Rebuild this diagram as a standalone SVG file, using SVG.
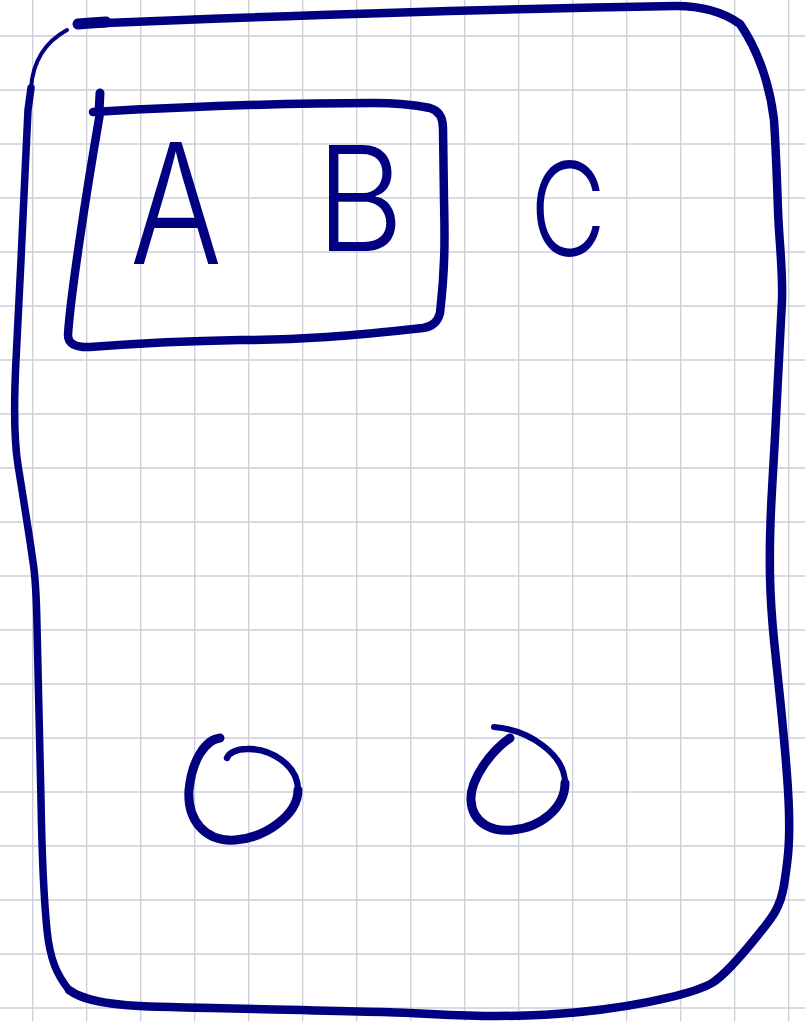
<svg xmlns="http://www.w3.org/2000/svg" width="805" height="1021" viewBox="0 0 805 1021">
<defs>
<style>
.grid line{stroke:#cdcdda;stroke-width:1.3}
.ink{fill:none;stroke:#000080;stroke-linecap:round;stroke-linejoin:round}
.lbl{fill:#000080;font-family:Inter,Roboto,"Liberation Sans",sans-serif;font-weight:300;text-anchor:middle}
</style>
</defs>
<rect width="805" height="1021" fill="#ffffff"/>
<g class="grid">
<line x1="32.7" y1="0" x2="32.7" y2="1021"/><line x1="86.7" y1="0" x2="86.7" y2="1021"/><line x1="140.7" y1="0" x2="140.7" y2="1021"/><line x1="194.7" y1="0" x2="194.7" y2="1021"/><line x1="248.7" y1="0" x2="248.7" y2="1021"/><line x1="302.7" y1="0" x2="302.7" y2="1021"/><line x1="356.7" y1="0" x2="356.7" y2="1021"/><line x1="410.7" y1="0" x2="410.7" y2="1021"/><line x1="464.7" y1="0" x2="464.7" y2="1021"/><line x1="518.7" y1="0" x2="518.7" y2="1021"/><line x1="572.7" y1="0" x2="572.7" y2="1021"/><line x1="626.7" y1="0" x2="626.7" y2="1021"/><line x1="680.7" y1="0" x2="680.7" y2="1021"/><line x1="734.7" y1="0" x2="734.7" y2="1021"/><line x1="788.7" y1="0" x2="788.7" y2="1021"/>
<line x1="0" y1="36" x2="805" y2="36"/><line x1="0" y1="90" x2="805" y2="90"/><line x1="0" y1="144" x2="805" y2="144"/><line x1="0" y1="198" x2="805" y2="198"/><line x1="0" y1="252" x2="805" y2="252"/><line x1="0" y1="306" x2="805" y2="306"/><line x1="0" y1="360" x2="805" y2="360"/><line x1="0" y1="414" x2="805" y2="414"/><line x1="0" y1="468" x2="805" y2="468"/><line x1="0" y1="522" x2="805" y2="522"/><line x1="0" y1="576" x2="805" y2="576"/><line x1="0" y1="630" x2="805" y2="630"/><line x1="0" y1="684" x2="805" y2="684"/><line x1="0" y1="738" x2="805" y2="738"/><line x1="0" y1="792" x2="805" y2="792"/><line x1="0" y1="846" x2="805" y2="846"/><line x1="0" y1="900" x2="805" y2="900"/><line x1="0" y1="954" x2="805" y2="954"/><line x1="0" y1="1008" x2="805" y2="1008"/>
</g>
<g id="outer-frame">
<path class="ink" stroke-width="11" d="M78,24 C88,23 96,22.5 106,22"/>
<path class="ink" stroke-width="8.5" d="M80,24 C250,17 480,9 676,6 Q715,6 740,24 C758,50 770,85 774,120 C776,150 777,180 778,210 S783,270 782,300 S776,420 772,490 S770,600 774,640 S785,740 788,790 S788,860 784,885 S770,920 758,935 S725,975 712,983 S650,1005 580,1012 S450,1015 411,1013 S180,1008 139,1006 S80,998 69,990"/>
<path class="ink" stroke-width="7.5" d="M69,990 C57,975 50,960 47,930 S42,860 41,800 S38,680 37,626 S34,570 32,555 S22,490 18,465 S14,400 16,360 S20,280 21,260 S26,150 28,110 L31,88"/>
<path class="ink" stroke-width="4" d="M31,88 C33,60 45,42 67,30"/>
</g>
<g id="box-ab">
<path class="ink" stroke-width="9" d="M100,93 L99,112"/>
<path class="ink" stroke-width="8.5" d="M93,112 C200,106 300,103 373,103 C400,103 415,105 430,108 Q443,112 443,128 L444,200 C445,240 445,270 440,313 Q437,326 423,328 C350,336 300,340 240,340 C180,341 130,344 90,347 Q68,348 68,335 C70,300 85,200 100,113"/>
</g>
<g id="label-a"><text class="lbl" x="176" y="264" font-size="168" textLength="92" lengthAdjust="spacingAndGlyphs">A</text></g>
<g id="label-b"><text class="lbl" x="360" y="251" font-size="146" textLength="88" lengthAdjust="spacingAndGlyphs">B</text></g>
<g id="label-c"><text class="lbl" x="568" y="256" font-size="130" textLength="76" lengthAdjust="spacingAndGlyphs">C</text></g>
<g id="circle-1">
<path class="ink" stroke-width="9" d="M220,738 C205,740 192,760 189,790 C187,820 205,842 235,840 C265,838 298,815 298,790"/>
<path class="ink" stroke-width="6.5" d="M298,790 C298,765 270,748 247,749 C236,749 229,753 227,758"/>
</g>
<g id="circle-2">
<path class="ink" stroke-width="9" d="M510,738 C490,752 470,780 471,800 C472,825 495,832 512,830 C540,828 565,808 565,783"/>
<path class="ink" stroke-width="6" d="M565,783 C565,755 530,730 494,727"/>
</g>
<g id="connectors"/>
</svg>
